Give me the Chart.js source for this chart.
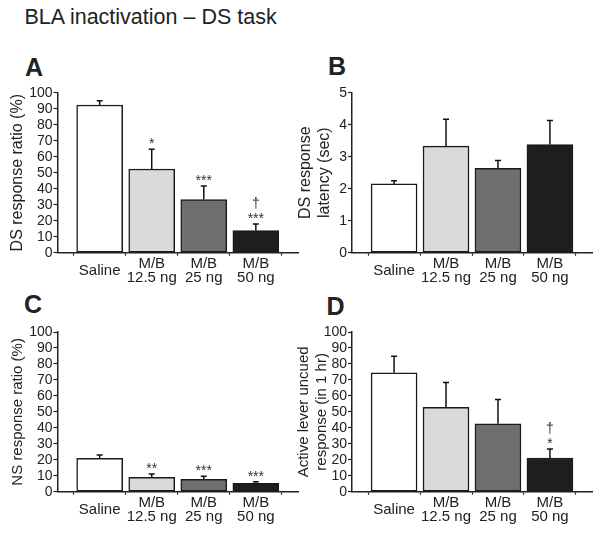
<!DOCTYPE html>
<html>
<head>
<meta charset="utf-8">
<script src="https://cdn.jsdelivr.net/npm/chart.js"></script>
<style>
body { margin: 0; background: #fff; }
#wrap { position: relative; width: 600px; height: 535px; overflow: hidden; font-family: Arial, "Liberation Sans", sans-serif; color: #222; }
.lbl { position: absolute; font-weight: bold; font-size: 25px; line-height: 25px; }
canvas { position: absolute; }
</style>
</head>
<body>
<div id="wrap">
  <div style="position:absolute;left:24.5px;top:7px;font-size:21.5px;line-height:21.5px;white-space:nowrap">BLA inactivation – DS task</div>
  <div class="lbl" style="left:25px;top:55px">A</div>
  <div class="lbl" style="left:328px;top:54px">B</div>
  <div class="lbl" style="left:24px;top:292px">C</div>
  <div class="lbl" style="left:326.5px;top:294px">D</div>
  <canvas id="chartA" width="300" height="260" style="left:0;top:40px"></canvas>
  <canvas id="chartB" width="310" height="260" style="left:290px;top:40px"></canvas>
  <canvas id="chartC" width="300" height="235" style="left:0;top:300px"></canvas>
  <canvas id="chartD" width="310" height="235" style="left:290px;top:300px"></canvas>
</div>
<script>
// groups on the x axis
const groups = ['Saline', ['M/B', '12.5 ng'], ['M/B', '25 ng'], ['M/B', '50 ng']];
const barColors = ['#ffffff', '#dadada', '#6f6f6f', '#1e1e1e'];

// A - DS response ratio (%)
const dsRatio = [92.3, 52.3, 33.2, 13.9];
const dsRatioSem = [2.7, 12.3, 8.5, 4.1];
const dsRatioNotes = [[], ['*'], ['***'], ['***', '†']];

// B - DS response latency (sec)
const dsLatency = [2.15, 3.33, 2.64, 3.38];
const dsLatencySem = [0.1, 0.84, 0.24, 0.75];
const dsLatencyNotes = [[], [], [], []];

// C - NS response ratio (%)
const nsRatio = [20.9, 9.0, 7.8, 5.3];
const nsRatioSem = [2.1, 2.1, 1.8, 1.0];
const nsRatioNotes = [[], ['**'], ['***'], ['***']];

// D - active lever uncued response (in 1 hr)
const uncued = [74.5, 52.9, 42.5, 21.1];
const uncuedSem = [10.3, 15.5, 15.3, 5.6];
const uncuedNotes = [[], [], [], ['*', '†']];

Chart.defaults.font.family = 'Arial, "Liberation Sans", sans-serif';
Chart.defaults.color = '#222';

// draws the up-only error bars and the significance marks
const errBars = {
    id: 'errBars',
    afterDatasetsDraw: function(chart) {
        var ctx = chart.ctx;
        var xs = chart.scales.x, ys = chart.scales.y;
        var ds = chart.data.datasets[0];
        ctx.save();
        ctx.strokeStyle = '#111';
        ctx.lineWidth = 1.5;
        ds.data.forEach(function(p, i) {
            var x = xs.getPixelForValue(p.x);
            var y0 = ys.getPixelForValue(p.y);
            var y1 = ys.getPixelForValue(p.y + ds.sems[i]);
            ctx.beginPath();
            ctx.moveTo(x, y0);
            ctx.lineTo(x, y1);
            ctx.moveTo(x - 3, y1);
            ctx.lineTo(x + 3, y1);
            ctx.stroke();
            ctx.fillStyle = '#333';
            ctx.font = '14px Arial, "Liberation Sans", sans-serif';
            ctx.textAlign = 'center';
            ctx.textBaseline = 'alphabetic';
            ds.notes[i].forEach(function(s, k) {
                ctx.fillText(s, x, y1 - 1 - k * 15);
            });
        });
        ctx.restore();
    }
};

function makePanel(id, means, sems, notes, yMax, yStep, yTitle, t) {
    const ctx = document.getElementById(id).getContext('2d');
    return new Chart(ctx, {
        type: 'bar',
        data: {
            datasets: [{
                data: means.map(function(v, i) { return {x: i + 1, y: v}; }),
                sems: sems,
                notes: notes,
                backgroundColor: barColors,
                borderColor: '#1a1a1a',
                borderWidth: 1.5,
                borderSkipped: false,
                barThickness: 46
            }]
        },
        options: {
            responsive: false,
            animation: false,
            devicePixelRatio: 1,
            layout: { padding: { top: t.top, right: t.right, left: 0, bottom: 0 } },
            plugins: { legend: { display: false }, tooltip: { enabled: false } },
            scales: {
                x: {
                    type: 'linear',
                    min: 0.19,
                    max: 4.81,
                    offset: false,
                    afterFit: function(s) { s.height = t.xh; },
                    afterBuildTicks: function(s) {
                        s.ticks = groups.map(function(g, i) { return {value: i + 1}; });
                    },
                    ticks: {
                        callback: function(v) { return groups[v - 1]; },
                        font: { size: 15, lineHeight: 0.92 },
                        padding: 8.5,
                        maxRotation: 0,
                        autoSkip: false,
                        crossAlign: 'center'
                    },
                    grid: { drawOnChartArea: false, tickLength: 3, color: '#222', tickWidth: 1.2 },
                    border: { color: '#222', width: 1.5 }
                },
                y: {
                    min: 0,
                    max: yMax,
                    afterFit: function(s) { s.width = t.yw; },
                    ticks: { stepSize: yStep, padding: 1, autoSkip: false, font: { size: 14 } },
                    grid: { drawOnChartArea: false, tickLength: 4, color: '#222', tickWidth: 1.2 },
                    border: { color: '#222', width: 1.5 },
                    title: {
                        display: true,
                        text: yTitle,
                        color: '#222',
                        font: { size: t.tf, lineHeight: t.tl },
                        padding: { top: t.tp, bottom: 0 }
                    }
                }
            }
        },
        plugins: [errBars]
    });
}

makePanel('chartA', dsRatio, dsRatioSem, dsRatioNotes, 100, 10, 'DS response ratio (%)',
    {top: 52.7, right: 2, xh: 47.3, yw: 57.5, tf: 16, tl: 1.15, tp: 8.8});
makePanel('chartB', dsLatency, dsLatencySem, dsLatencyNotes, 5, 1, ['DS response', 'latency (sec)'],
    {top: 52.7, right: 8, xh: 47.3, yw: 62, tf: 16, tl: 1.15, tp: 6.6});
makePanel('chartC', nsRatio, nsRatioSem, nsRatioNotes, 100, 10, 'NS response ratio (%)',
    {top: 32, right: 2, xh: 43.3, yw: 57.5, tf: 15, tl: 1.15, tp: 9.4});
makePanel('chartD', uncued, uncuedSem, uncuedNotes, 100, 10, ['Active lever uncued', 'response (in 1 hr)'],
    {top: 32, right: 8, xh: 43.3, yw: 62, tf: 15, tl: 1.167, tp: 5.45});
</script>
</body>
</html>
